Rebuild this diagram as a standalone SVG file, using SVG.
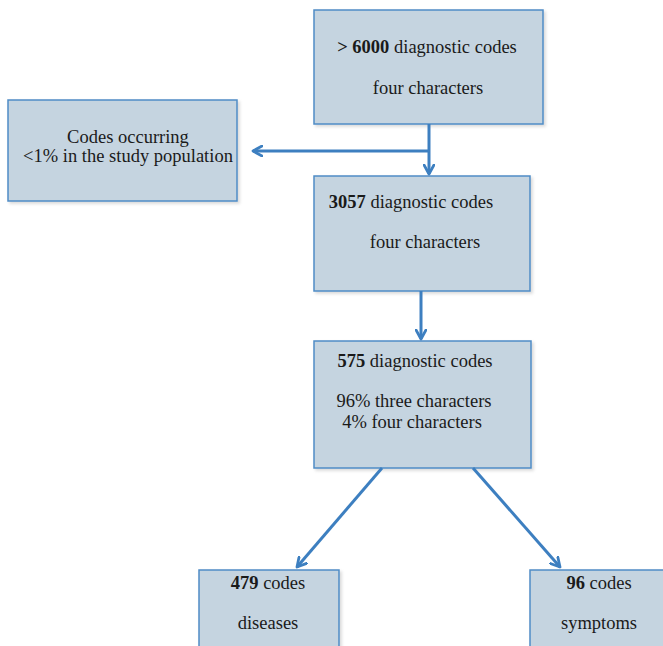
<svg xmlns="http://www.w3.org/2000/svg" width="663" height="646" viewBox="0 0 663 646">
<style>
.box{fill:#c5d4e0;stroke:#4f8cc6;stroke-width:1.5;filter:url(#sh)}
.t{font-family:"Liberation Serif","Times New Roman",serif;font-size:18.5px;fill:#1a1a1a;text-anchor:middle}
.b{font-weight:bold}
.c{stroke:#3d7fc0;stroke-width:3;fill:none}
</style>
<defs>
<filter id="sh" x="-10%" y="-10%" width="120%" height="120%">
<feDropShadow dx="2" dy="2" stdDeviation="1.5" flood-color="#000" flood-opacity="0.15"/>
</filter>
<marker id="ah" viewBox="0 0 12 12" refX="10" refY="6" markerWidth="12" markerHeight="12" markerUnits="userSpaceOnUse" orient="auto">
<path d="M1,1 L10,6 L1,11" fill="none" stroke="#3d7fc0" stroke-width="2.8" stroke-linecap="round" stroke-linejoin="round"/>
</marker>
</defs>
<rect width="663" height="646" fill="#fff"/>
<g id="n1"><rect class="box" x="314" y="10" width="229" height="114"/>
<text class="t" x="427" y="53"><tspan class="b">&gt; 6000</tspan> diagnostic codes</text>
<text class="t" x="428" y="94">four characters</text></g>
<g id="n2"><rect class="box" x="8" y="100" width="229" height="101"/>
<text class="t" x="128" y="143">Codes occurring</text>
<text class="t" x="128" y="162">&lt;1% in the study population</text></g>
<g id="n3"><rect class="box" x="314" y="176" width="216" height="115"/>
<text class="t" x="411" y="208"><tspan class="b">3057</tspan> diagnostic codes</text>
<text class="t" x="425" y="248">four characters</text></g>
<g id="n4"><rect class="box" x="314" y="341" width="217" height="127"/>
<text class="t" x="415" y="367"><tspan class="b">575</tspan> diagnostic codes</text>
<text class="t" x="414" y="407">96% three characters</text>
<text class="t" x="412" y="428">4% four characters</text></g>
<g id="n5"><rect class="box" x="199" y="570" width="140" height="90"/>
<text class="t" x="268" y="589"><tspan class="b">479</tspan> codes</text>
<text class="t" x="268" y="629">diseases</text></g>
<g id="n6"><rect class="box" x="530" y="570" width="145" height="90"/>
<text class="t" x="599" y="589"><tspan class="b">96</tspan> codes</text>
<text class="t" x="599" y="629">symptoms</text></g>
<g id="connectors">
<path class="c" d="M429,124 V174" marker-end="url(#ah)"/>
<path class="c" d="M430,151 H253" marker-end="url(#ah)"/>
<path class="c" d="M421,291 V339" marker-end="url(#ah)"/>
<path class="c" d="M382,468 L297,567" marker-end="url(#ah)"/>
<path class="c" d="M473,468 L560,567" marker-end="url(#ah)"/>
</g>
</svg>
